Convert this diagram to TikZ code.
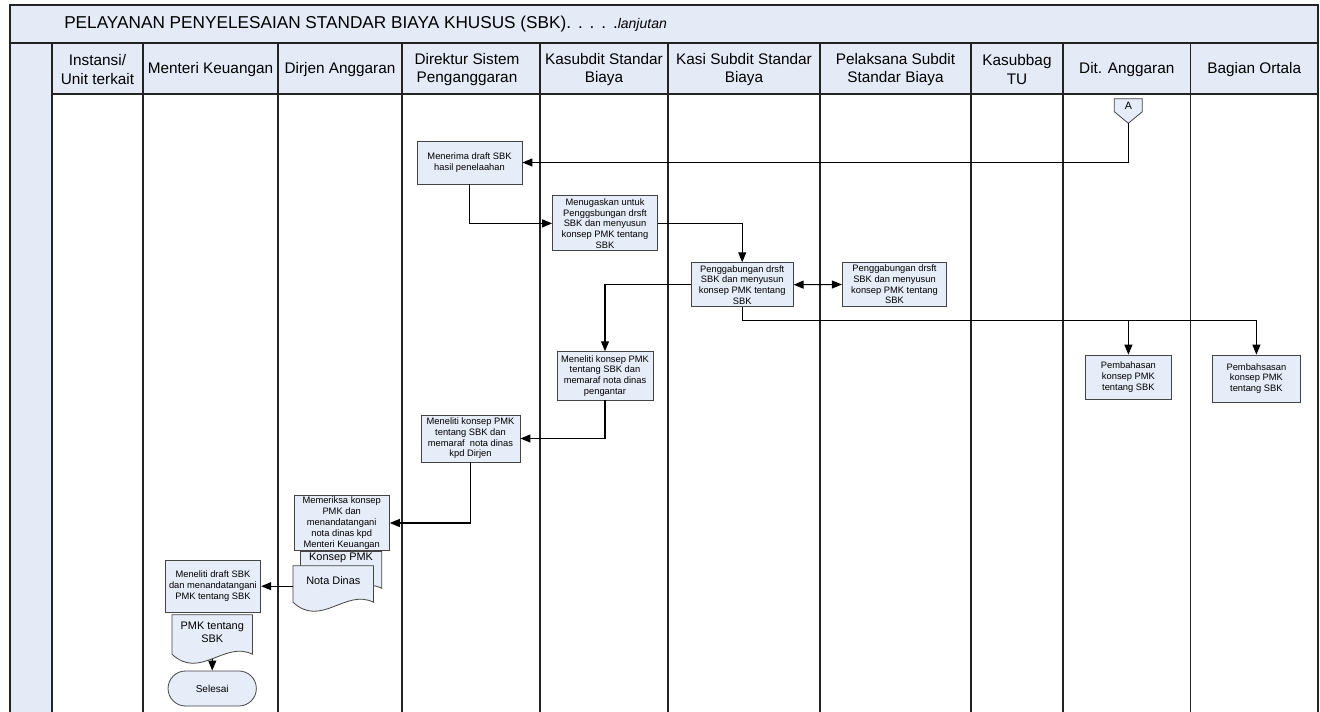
\documentclass[tikz,border=0pt]{standalone}
\usepackage{fontspec}
\setmainfont{Liberation Sans}
\usetikzlibrary{arrows.meta,shapes.misc,calc}

\definecolor{bandblue}{RGB}{228,235,247}
\definecolor{boxblue}{RGB}{230,236,248}
\definecolor{laneline}{RGB}{35,35,35}

\tikzset{
  lane/.style={draw=laneline,line width=1pt},
  proc/.style={draw=laneline!85,fill=boxblue,line width=0.6pt,align=center,inner sep=1pt,font=\fontsize{7}{8}\selectfont},
  head/.style={align=center,inner sep=1pt,font=\fontsize{11.5}{14}\selectfont},
  docframe/.style={inner sep=0pt},
  doctext/.style={align=center,inner sep=1pt,font=\fontsize{8.2}{10}\selectfont},
  flow/.style={draw=black,line width=0.8pt,-{Triangle[length=7.5pt,width=6pt]}},
}

% document symbol with a wavy bottom, drawn round an empty frame node
\newcommand{\docshape}[1]{%
  \draw[draw=laneline!85,fill=boxblue,line width=0.6pt] (#1.south east) -- (#1.north east) -- (#1.north west) -- (#1.south west) .. controls ($(#1.south west)!0.35!(#1.south east)+(0,26)$) and ($(#1.south west)!0.65!(#1.south east)+(0,-14)$) .. (#1.south east) -- cycle;}
\newcommand{\titledot}{.\hspace{0.4em}}

\begin{document}
\begin{tikzpicture}[x=0.75pt,y=0.75pt,yscale=-1,xscale=1]
\useasboundingbox (0,0) rectangle (1320,712);

%Shape: Rectangle (title band, header row, left band)
\fill[bandblue] (10,5) rectangle (1318,43);
\fill[bandblue] (52,43) rectangle (1318,94);
\fill[bandblue] (10,43) rectangle (52,712);

%Straight Lines (frame and swimlanes)
\draw[lane] (10,712) -- (10,5) -- (1318,5) -- (1318,712);
\draw[lane] (10,43) -- (1318,43);
\draw[lane] (52,94) -- (1318,94);
\foreach \x in {52,143,278,402,540,668,820,971,1063,1190.5}
  \draw[lane] (\x,43) -- (\x,712);

% Text Node
\node[anchor=west,inner sep=0pt,font=\fontsize{12.9}{15}\selectfont] (title) at (64,24) {PELAYANAN PENYELESAIAN STANDAR BIAYA KHUSUS (SBK)\titledot\titledot\titledot\titledot.{\fontsize{10.5}{12}\selectfont\itshape lanjutan}};

% Text Node
\node[head] (hInstansi) at (97.5,69.5) {Instansi/\\Unit terkait};
\node[head] (hMenteri) at (210.5,69.5) {Menteri Keuangan};
\node[head] (hDirjen) at (340,69.5) {Dirjen Anggaran};
\node[head] (hDirektur) at (467,69.5) {Direktur Sistem\\Penganggaran};
\node[head] (hKasubdit) at (604,69.5) {Kasubdit Standar\\Biaya};
\node[head] (hKasi) at (744,69.5) {Kasi Subdit Standar\\Biaya};
\node[head] (hPelaksana) at (895.5,69.5) {Pelaksana Subdit\\Standar Biaya};
\node[head] (hKasubbag) at (1017,69.5) {Kasubbag\\TU};
\node[head] (hDitAng) at (1126.8,69.5) {Dit. Anggaran};
\node[head] (hOrtala) at (1254.3,69.5) {Bagian Ortala};

%Shape: Pentagon (off-page connector)
\draw[draw=laneline!85,fill=boxblue,line width=0.6pt] (1114.3,98.7) -- (1142.3,98.7) -- (1142.3,111.7) -- (1128.3,123.3) -- (1114.3,111.7) -- cycle;
\node[inner sep=0pt,font=\fontsize{8}{9}\selectfont] (conA) at (1128.3,105.5) {A};
\coordinate (conAtip) at (1128.3,123.3);

%Shape: Rectangle (process steps)
\node[proc,minimum width=78.75pt,minimum height=32.25pt] (b1) at (469.5,162.5) {Menerima draft SBK\\hasil penelaahan};
\node[proc,minimum width=78.75pt,minimum height=41.25pt] (b2) at (605,223.4) {Menugaskan untuk\\Penggsbungan drsft\\SBK dan menyusun\\konsep PMK tentang\\SBK};
\node[proc,minimum width=76.5pt,minimum height=33pt] (b3) at (742.2,284.7) {Penggabungan drsft\\SBK dan menyusun\\konsep PMK tentang\\SBK};
\node[proc,minimum width=78.3pt,minimum height=32.7pt] (b4) at (894.5,284.5) {Penggabungan drsft\\SBK dan menyusun\\konsep PMK tentang\\SBK};
\node[proc,minimum width=65pt,minimum height=33pt] (b5) at (1128.4,377) {Pembahasan\\konsep PMK\\tentang SBK};
\node[proc,minimum width=65.5pt,minimum height=35.25pt] (b6) at (1256.4,378.5) {Pembahsasan\\konsep PMK\\tentang SBK};
\node[proc,minimum width=72pt,minimum height=36.2pt] (b7) at (605,375.8) {Meneliti konsep PMK\\tentang SBK dan\\memaraf nota dinas\\pengantar};
\node[proc,minimum width=74.25pt,minimum height=35.25pt] (b8) at (470.5,438.5) {Meneliti konsep PMK\\tentang SBK dan\\memaraf\ \ nota dinas\\kpd Dirjen};
\node[proc,minimum width=71.5pt,minimum height=39.5pt,font=\fontsize{7}{8.3}\selectfont] (b9) at (341.7,523) {Memeriksa konsep\\PMK dan\\menandatangani\\nota dinas kpd\\Menteri Keuangan};
\node[proc,minimum width=71.8pt,minimum height=39.2pt] (b11) at (212.9,586.2) {Meneliti draft SBK\\dan menandatangani\\PMK tentang SBK};

%Shape: Document
\node[docframe,minimum width=60.6pt,minimum height=27.2pt] (konsep) at (341.1,569.9) {};
\docshape{konsep}
\node[doctext,anchor=north] (konsepTxt) at (konsep.north) {Konsep PMK};
\node[docframe,minimum width=60pt,minimum height=27pt] (nota) at (333.3,584) {};
\docshape{nota}
\node[doctext] (notaTxt) at (333.3,581) {Nota Dinas};
\node[docframe,minimum width=60pt,minimum height=29.25pt] (pmk) at (212.3,634.5) {};
\docshape{pmk}
\node[doctext] (pmkTxt) at (212.3,632) {PMK tentang\\SBK};

%Shape: Terminator
\node[proc,rounded rectangle,minimum width=68.25pt,minimum height=26.25pt,font=\fontsize{7.5}{9}\selectfont] (selesai) at (212.2,688.5) {Selesai};

%Straight Lines (connectors)
\draw[flow] (conAtip) |- (b1.east);
\draw[flow] (b1.south) |- (b2.west);
\draw[flow] (b2.east) -| (b3.north);
\draw[flow,{Triangle[length=7.5pt,width=6pt]}-{Triangle[length=7.5pt,width=6pt]}] (b3.east) -- (b4.west);
\draw[flow] (b3.west) -| (b7.north);
\coordinate (split) at (742.2,320.7);
\draw[line width=0.8pt] (b3.south) -- (split);
\draw[flow] (split) -| (b5.north);
\draw[flow] (split) -| (b6.north);
\draw[flow] (b7.south) |- (b8.east);
\draw[flow] (b8.south) |- (b9.east);
\draw[flow] (nota.west |- b11.east) -- (b11.east);
\draw[flow] (pmk.south) ++(0,4.5) -- (selesai.north);

\end{tikzpicture}
\end{document}
